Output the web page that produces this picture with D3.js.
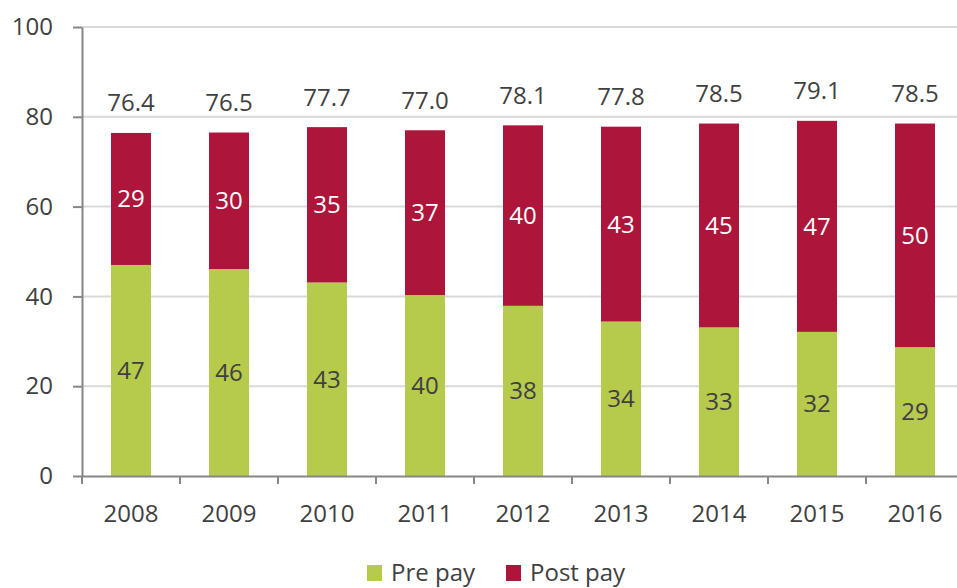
<!DOCTYPE html>
<meta charset="utf-8">
<style>
    body { margin: 0; background: #fff; }
    text { font-family: "Open Sans", sans-serif; fill: #404040; }
</style>
<script src="https://d3js.org/d3.v7.min.js"></script>
<div id="chart"></div>
<script>
    // data
    var years = ["2008", "2009", "2010", "2011", "2012", "2013", "2014", "2015", "2016"];
    var prePay = [47.0, 46.1, 43.1, 40.3, 37.9, 34.4, 33.1, 32.1, 28.7];
    var postPay = [29.4, 30.4, 34.6, 36.7, 40.2, 43.4, 45.4, 47.0, 49.8];
    var totals = ["76.4", "76.5", "77.7", "77.0", "78.1", "77.8", "78.5", "79.1", "78.5"];
    var yTicks = [0, 20, 40, 60, 80, 100];

    var W = 957, H = 588;
    var mLeft = 82, mRight = 964, mTop = 27, mBottom = 476;

    var svg = d3.select("#chart").append("svg")
        .attr("width", W).attr("height", H);

    var x = d3.scaleBand().domain(years).range([mLeft, mRight]).paddingInner(0).paddingOuter(0);
    var y = d3.scaleLinear().domain([0, 100]).range([mBottom, mTop]);
    var barW = 40;

    // gridlines
    svg.append("g").selectAll("line")
        .data(yTicks.filter(function(d) { return d > 0; }))
        .enter().append("line")
        .attr("x1", mLeft).attr("x2", W)
        .attr("y1", function(d) { return y(d); })
        .attr("y2", function(d) { return y(d); })
        .attr("stroke", "#d9d9d9").attr("stroke-width", 2);

    // y axis
    var yAxis = svg.append("g")
        .attr("transform", "translate(" + mLeft + ",0)")
        .call(d3.axisLeft(y).tickValues(yTicks).tickSize(9).tickSizeOuter(0).tickPadding(20));
    yAxis.select(".domain").attr("stroke", "#868686").attr("stroke-width", 2);
    yAxis.selectAll(".tick line").attr("stroke", "#868686").attr("stroke-width", 2);
    yAxis.selectAll("text").style("font-size", "24px").attr("fill", "#404040")
        .style("font-family", "'Open Sans', sans-serif");

    // bars
    var rows = years.map(function(yr, i) {
        return { year: yr, pre: prePay[i], post: postPay[i], total: totals[i] };
    });

    var g = svg.append("g");
    g.selectAll(".pre").data(rows).enter().append("rect")
        .attr("x", function(d) { return x(d.year) + x.bandwidth() / 2 - barW / 2; })
        .attr("y", function(d) { return y(d.pre); })
        .attr("width", barW)
        .attr("height", function(d) { return y(0) - y(d.pre); })
        .attr("fill", "#b6ca4c");
    g.selectAll(".post").data(rows).enter().append("rect")
        .attr("x", function(d) { return x(d.year) + x.bandwidth() / 2 - barW / 2; })
        .attr("y", function(d) { return y(d.pre + d.post); })
        .attr("width", barW)
        .attr("height", function(d) { return y(d.pre) - y(d.pre + d.post); })
        .attr("fill", "#ad163a");

    // x axis
    var xAxis = svg.append("g")
        .attr("transform", "translate(0," + mBottom + ")")
        .call(d3.axisBottom(x).tickSize(0).tickSizeOuter(0).tickPadding(29));
    xAxis.select(".domain").attr("stroke", "#868686").attr("stroke-width", 2);
    xAxis.selectAll("text").style("font-size", "24px").attr("fill", "#404040")
        .style("font-family", "'Open Sans', sans-serif");
    // boundary ticks
    svg.append("g").selectAll("line")
        .data(years.concat(["end"]))
        .enter().append("line")
        .attr("x1", function(d, i) { return mLeft + i * x.step(); })
        .attr("x2", function(d, i) { return mLeft + i * x.step(); })
        .attr("y1", mBottom).attr("y2", mBottom + 8)
        .attr("stroke", "#868686").attr("stroke-width", 2);

    // labels
    function cx(d) { return x(d.year) + x.bandwidth() / 2; }
    g.selectAll(".lpre").data(rows).enter().append("text")
        .attr("x", cx)
        .attr("y", function(d) { return (y(0) + y(d.pre)) / 2; })
        .attr("dy", "0.35em").attr("text-anchor", "middle")
        .style("font-size", "24px")
        .text(function(d) { return Math.round(d.pre); });
    g.selectAll(".lpost").data(rows).enter().append("text")
        .attr("x", cx)
        .attr("y", function(d) { return (y(d.pre) + y(d.pre + d.post)) / 2; })
        .attr("dy", "0.35em").attr("text-anchor", "middle")
        .style("font-size", "24px").style("fill", "#fff")
        .text(function(d) { return Math.round(d.post); });
    g.selectAll(".ltot").data(rows).enter().append("text")
        .attr("x", cx)
        .attr("y", function(d) { return y(d.pre + d.post) - 30; })
        .attr("dy", "0.35em").attr("text-anchor", "middle")
        .style("font-size", "24px")
        .text(function(d) { return d.total; });

    // legend
    var legend = [{ name: "Pre pay", color: "#b6ca4c", x: 367 }, { name: "Post pay", color: "#ad163a", x: 506 }];
    var lg = svg.append("g").selectAll("g").data(legend).enter().append("g");
    lg.append("rect")
        .attr("x", function(d) { return d.x; }).attr("y", 565)
        .attr("width", 15).attr("height", 16)
        .attr("fill", function(d) { return d.color; });
    lg.append("text")
        .attr("x", function(d) { return d.x + 24; }).attr("y", 573)
        .attr("dy", "0.35em")
        .style("font-size", "24px")
        .text(function(d) { return d.name; });
</script>
